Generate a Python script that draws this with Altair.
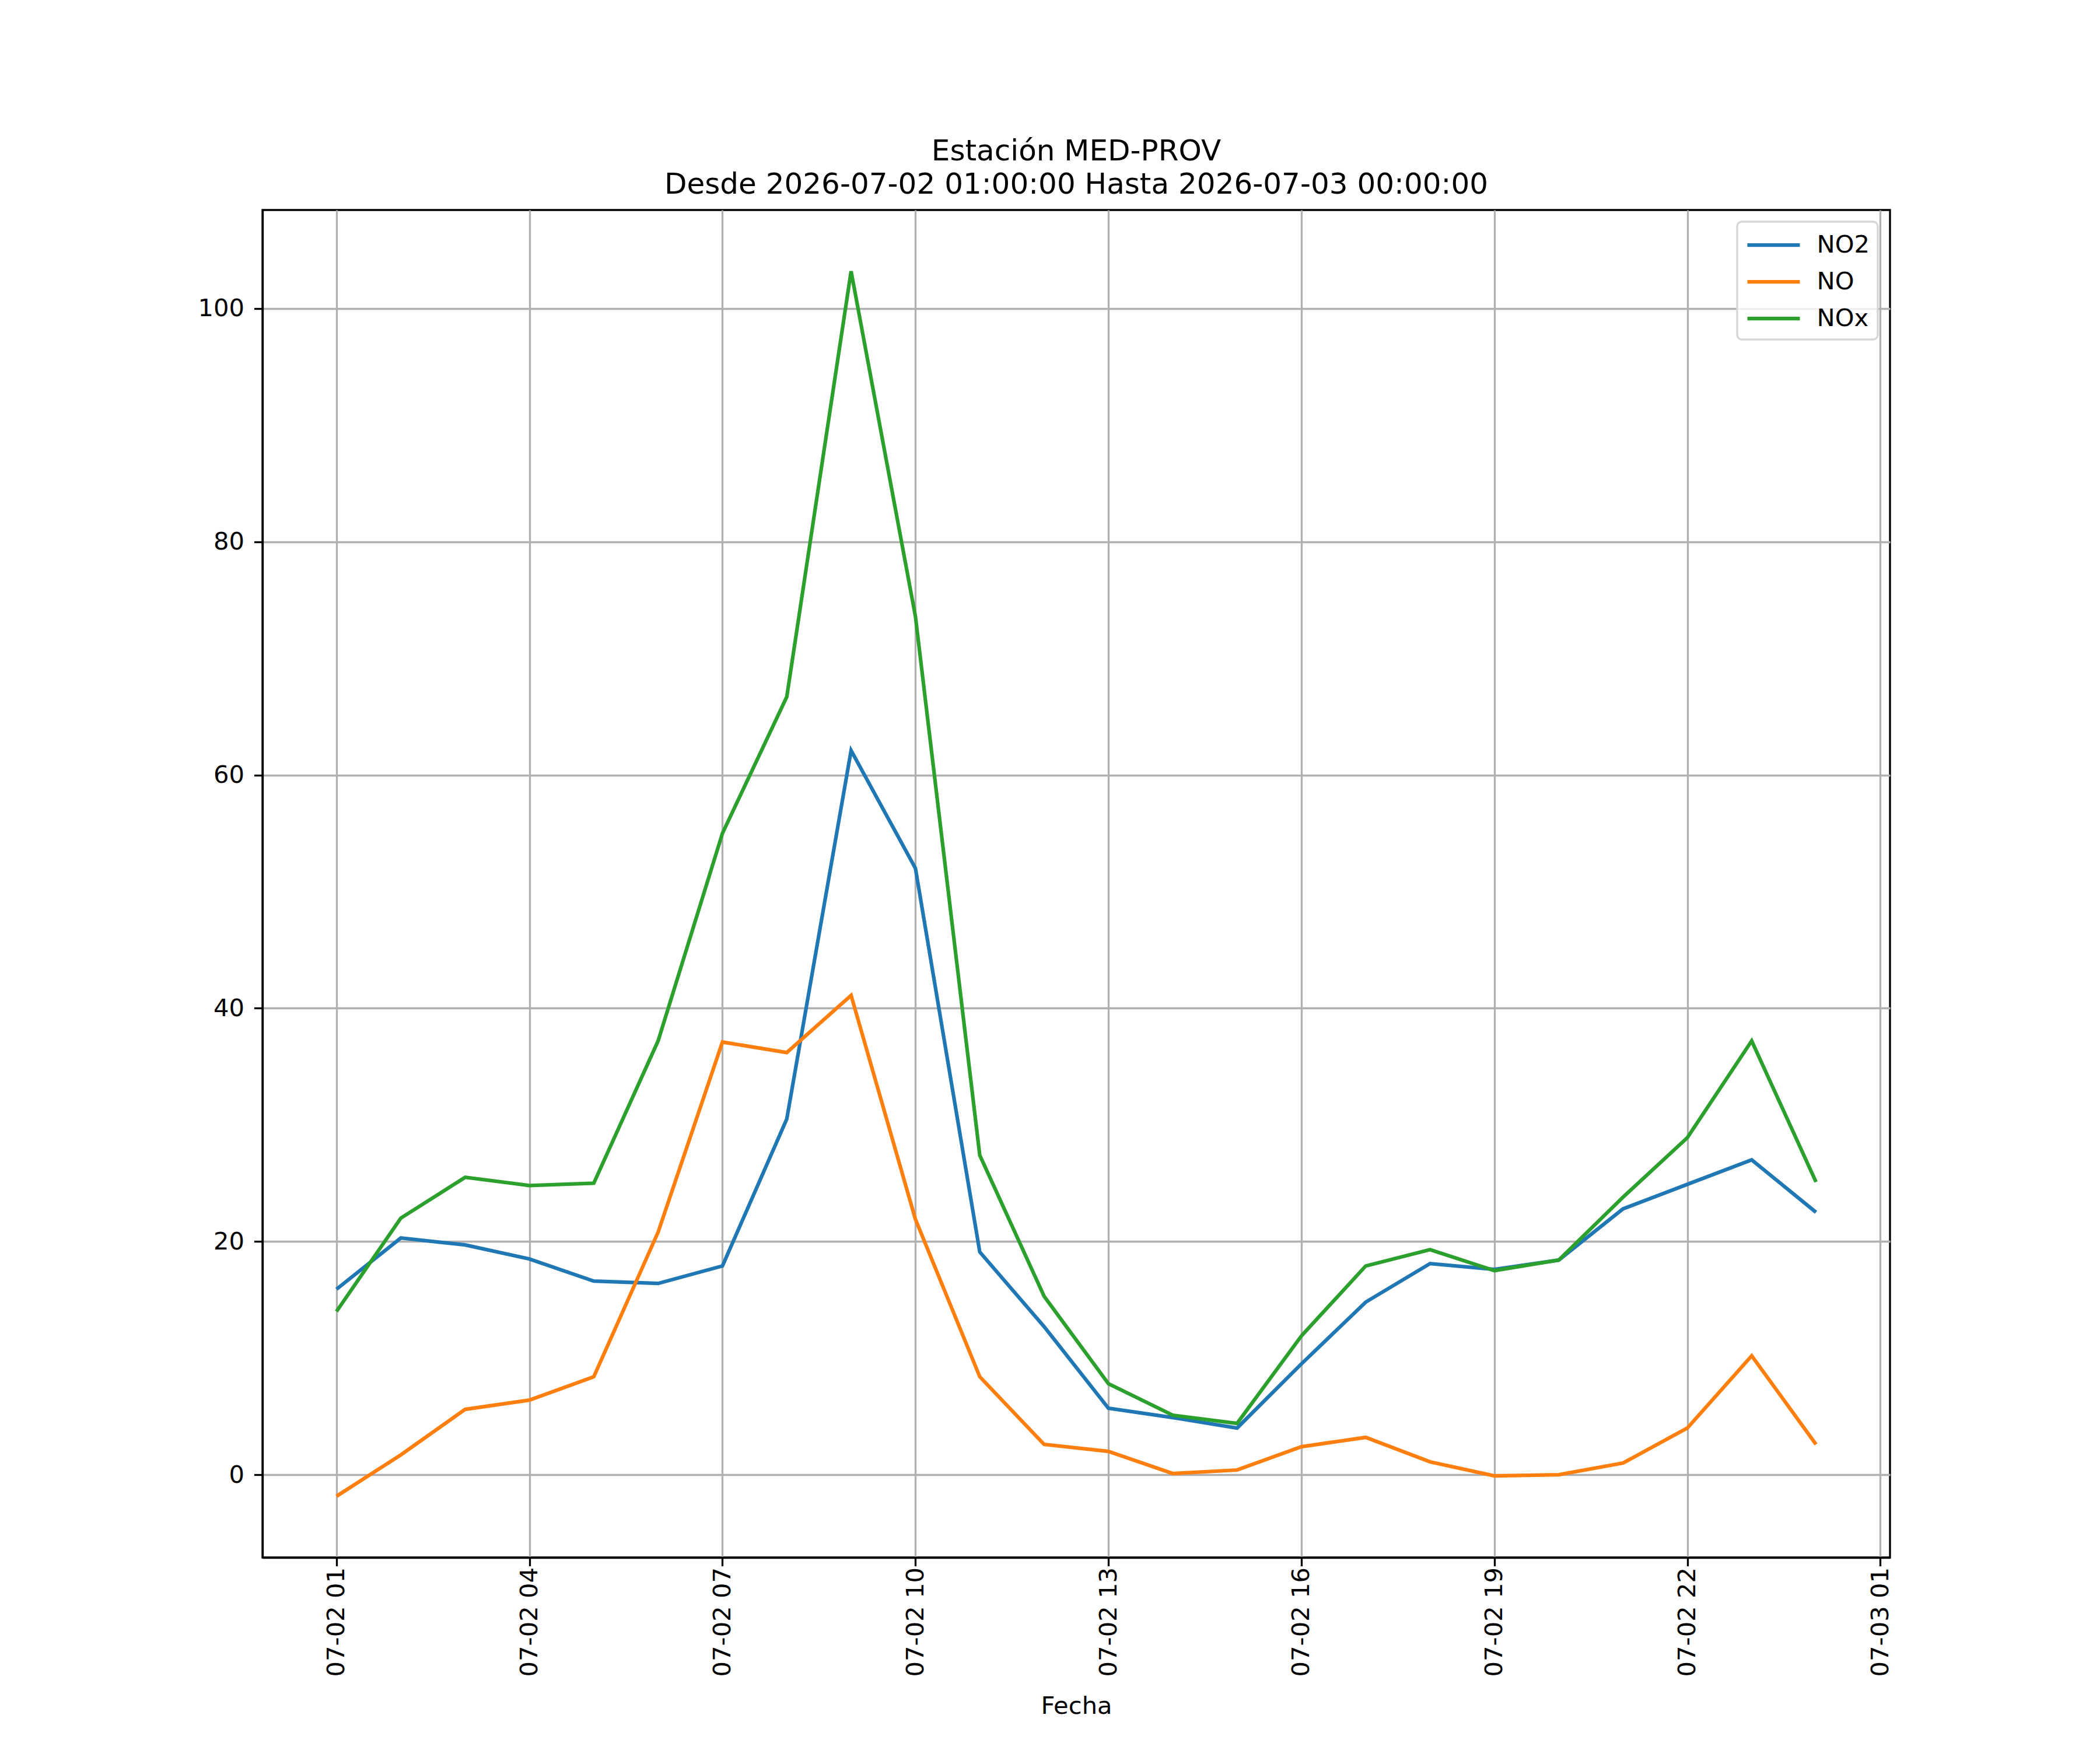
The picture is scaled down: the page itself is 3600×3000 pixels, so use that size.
import altair as alt
import pandas as pd

hours = [f"2026-07-02T{h:02d}:00:00" for h in range(1, 24)] + ["2026-07-03T00:00:00"]

no2 = [15.9, 20.3, 19.7, 18.5, 16.6, 16.4, 17.9, 30.5, 62.1, 52.0, 19.1, 12.7,
       5.7, 4.9, 4.0, 9.5, 14.8, 18.1, 17.6, 18.4, 22.8, 24.9, 27.0, 22.5]
no = [-1.85, 1.7, 5.6, 6.4, 8.4, 20.8, 37.1, 36.2, 41.1, 21.9, 8.4, 2.6,
      2.0, 0.1, 0.4, 2.4, 3.2, 1.1, -0.1, 0.0, 1.0, 4.0, 10.2, 2.6]
nox = [14.0, 22.0, 25.5, 24.8, 25.0, 37.2, 55.0, 66.7, 103.2, 73.6, 27.4, 15.3,
       7.8, 5.1, 4.4, 11.9, 17.9, 19.3, 17.5, 18.4, 23.8, 28.9, 37.2, 25.1]

series = ["NO2", "NO", "NOx"]
colors = ["#1f77b4", "#ff7f0e", "#2ca02c"]

rows = []
for name, vals in zip(series, [no2, no, nox]):
    for t, v in zip(hours, vals):
        rows.append({"Fecha": t, "valor": v, "serie": name})
df = pd.DataFrame(rows)

allv = no2 + no + nox
vmin, vmax = min(allv), max(allv)
m = (vmax - vmin) * 0.05
ydom = [vmin - m, vmax + m]

FONT = "DejaVu Sans"
FS = 41.67

xdom = [alt.DateTime(year=2026, month=7, date=1, hours=23, minutes=51),
        alt.DateTime(year=2026, month=7, date=3, hours=1, minutes=9)]
tick_vals = [alt.DateTime(year=2026, month=7, date=2, hours=h) for h in range(1, 23, 3)] + \
            [alt.DateTime(year=2026, month=7, date=3, hours=1)]

chart = alt.Chart(df).mark_line(strokeWidth=6.25, clip=True).encode(
    x=alt.X("Fecha:T", title="Fecha",
            scale=alt.Scale(domain=xdom),
            axis=alt.Axis(values=tick_vals, format="%m-%d %H", labelAngle=270,
                          labelAlign="right", labelBaseline="middle", labelLimit=1000,
                          titleY=267, titleBaseline="alphabetic")),
    y=alt.Y("valor:Q", title=None,
            scale=alt.Scale(domain=ydom, nice=False, zero=False),
            axis=alt.Axis(values=[0, 20, 40, 60, 80, 100], labelPadding=17)),
    color=alt.Color("serie:N", scale=alt.Scale(domain=series, range=colors),
                    legend=alt.Legend(orient="none", legendX=2528, legendY=20, title=None,
                                      symbolType="M-2,0H2", symbolSize=2025,
                                      symbolStrokeWidth=6.25, labelOffset=48,
                                      symbolOffset=22.5,
                                      padding=14, rowPadding=15)),
).properties(
    width=2790, height=2310,
    autosize=alt.AutoSizeParams(type="none"),
    padding={"left": 442, "top": 352, "right": 352, "bottom": 322},
    title=alt.Title(["Estación MED-PROV",
                     "Desde 2026-07-02 01:00:00 Hasta 2026-07-03 00:00:00"],
                    fontSize=50, font=FONT, fontWeight="normal", anchor="middle",
                    offset=18, lineHeight=57, color="black"),
).configure_view(
    stroke="black", strokeWidth=3.3
).configure_axis(
    labelFont=FONT, labelFontSize=FS, labelColor="black",
    titleFont=FONT, titleFontSize=FS, titleFontWeight="normal", titleColor="black",
    grid=True, gridColor="#b0b0b0", gridWidth=3.3,
    domain=True, domainColor="black", domainWidth=3.3,
    ticks=True, tickColor="black", tickWidth=3.3, tickSize=14.6,
).configure_legend(
    labelFont=FONT, labelFontSize=FS, labelColor="black",
    fillColor="rgba(255,255,255,0.8)", strokeColor="#d6d6d6", strokeWidth=3.3,
    cornerRadius=8,
)

chart.save("out.html", embed_options={"renderer": "svg", "actions": False})
